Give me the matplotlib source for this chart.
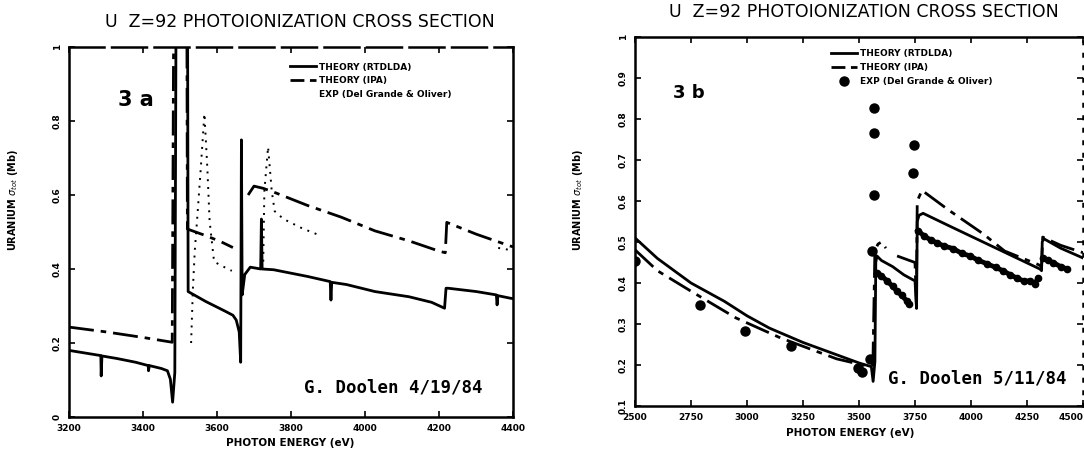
import numpy as np
import matplotlib
matplotlib.use("Agg")
import matplotlib.pyplot as plt
from matplotlib.lines import Line2D

# ---- Fig. 3a: M-shell region, theory only ----
a_ticks = [3200, 3400, 3600, 3800, 4000, 4200, 4400]
a_yticks = [0, 0.2, 0.4, 0.6, 0.8, 1.0]
a_ytick_labels = ["0", "0.2", "0.4", "0.6", "0.8", "1"]

a_rtdlda_e = [3200, 3286, 3287, 3289, 3330, 3380, 3414, 3415, 3417, 3450, 3466, 3474,
              3480, 3486, 3490, 3520, 3522, 3570, 3620, 3643, 3652, 3660, 3664,
              3666, 3668, 3675, 3690, 3718, 3720, 3722, 3753, 3844, 3906, 3908,
              3910, 3950, 4027, 4119, 4180, 4215, 4219, 4225, 4301, 4355, 4357,
              4359, 4393, 4400]
a_rtdlda_v = [0.180, 0.166, 0.111, 0.165, 0.158, 0.148, 0.139, 0.125, 0.139, 0.131,
              0.125, 0.102, 0.040, 0.120, 1.300, 1.300, 0.339, 0.312, 0.287, 0.275,
              0.262, 0.230, 0.148, 0.749, 0.330, 0.385, 0.405, 0.400, 0.535, 0.400,
              0.398, 0.380, 0.366, 0.316, 0.364, 0.358, 0.339, 0.325, 0.310, 0.294,
              0.348, 0.348, 0.339, 0.330, 0.303, 0.328, 0.321, 0.320]

a_ipa_e = [3200, 3300, 3400, 3479, 3484, 3518, 3520, 3570, 3610, 3643, np.nan,
           3684, 3700, 3725, 3753, 3844, 3936, 4027, 4119, 4201, 4217, 4221,
           4301, 4393, 4400]
a_ipa_v = [0.243, 0.230, 0.215, 0.202, 1.300, 1.300, 0.508, 0.490, 0.474, 0.458,
           np.nan, 0.600, 0.624, 0.618, 0.608, 0.572, 0.540, 0.503, 0.476, 0.448,
           0.444, 0.526, 0.494, 0.462, 0.460]

a_dot_e = [3530, 3535, 3540, 3546, 3556, 3566, 3574, 3580, 3592, 3610, 3640,
           np.nan, 3725, 3728, 3738, 3748, 3756, 3780, 3830, 3880, np.nan,
           4050, np.nan, 4265, np.nan, 4360, 4400]
a_dot_v = [0.200, 0.350, 0.450, 0.530, 0.670, 0.820, 0.670, 0.530, 0.420, 0.410,
           0.395, np.nan, 0.420, 0.610, 0.730, 0.610, 0.556, 0.535, 0.510, 0.490,
           np.nan, 0.450, np.nan, 0.410, np.nan, 0.457, 0.450]

# ---- Fig. 3b: comparison with experiment ----
b_ticks = [2500, 2750, 3000, 3250, 3500, 3750, 4000, 4250, 4500]
b_yticks = [0.1, 0.2, 0.3, 0.4, 0.5, 0.6, 0.7, 0.8, 0.9, 1.0]
b_ytick_labels = ["0.1", "0.2", "0.3", "0.4", "0.5", "0.6", "0.7", "0.8", "0.9", "1"]

b_rtdlda_e = [2500, 2600, 2750, 2900, 3000, 3100, 3250, 3400, 3500, 3555, 3563,
              3571, 3575, 3580, 3600, 3650, 3700, 3750, 3757, 3760, 3768, 3786,
              3900, 4000, 4100, 4200, 4308, 4315, 4318, 4325, 4400, 4500]
b_rtdlda_v = [0.510, 0.460, 0.400, 0.355, 0.320, 0.290, 0.255, 0.225, 0.205, 0.196,
              0.160, 0.208, 0.450, 0.466, 0.455, 0.440, 0.420, 0.405, 0.338, 0.550,
              0.565, 0.570, 0.540, 0.514, 0.488, 0.462, 0.434, 0.430, 0.500, 0.508,
              0.485, 0.461]

b_ipa_e = [2500, 2600, 2750, 2950, 3150, 3400, 3540, 3562, 3571, 3585, 3600, 3620,
           np.nan, 3670, 3700, 3750, 3756, 3760, 3781, 3900, 4054, 4150, 4300,
           4315, 4320, 4400, 4500]
b_ipa_v = [0.481, 0.430, 0.380, 0.315, 0.266, 0.215, 0.197, 0.200, 0.480, 0.495,
           0.500, 0.485, np.nan, 0.466, 0.460, 0.450, 0.350, 0.600, 0.626, 0.578,
           0.520, 0.478, 0.445, 0.440, 0.512, 0.492, 0.474]

b_exp_e = [2500, 2791, 2991, 3198, 3497, 3513, 3548, 3558, 3566, 3568, 3569,
           3741, 3745]
b_exp_v = [0.453, 0.347, 0.283, 0.246, 0.193, 0.184, 0.215, 0.479, 0.614, 0.766,
           0.828, 0.668, 0.737]

# densely sampled measurements above the M5, M4 and M3 edges
b_band_e = [3580, 3600, 3625, 3650, 3670, 3690, 3714, 3725, np.nan,
            3763, 3790, 3820, 3848, 3880, 3920, 3960, 3996, 4030, 4071, 4110,
            4143, 4175, 4205, 4235, 4263, 4285, 4299, np.nan,
            4321, 4345, 4366, 4400, 4429]
b_band_v = [0.425, 0.418, 0.405, 0.392, 0.380, 0.370, 0.356, 0.350, np.nan,
            0.528, 0.515, 0.505, 0.498, 0.490, 0.484, 0.472, 0.466, 0.456, 0.447,
            0.438, 0.430, 0.420, 0.412, 0.405, 0.405, 0.398, 0.412, np.nan,
            0.461, 0.455, 0.450, 0.440, 0.434]

TITLE = "U  Z=92 PHOTOIONIZATION CROSS SECTION"
YLABEL = r"URANIUM $\sigma_{tot}$ (Mb)"
XLABEL = "PHOTON ENERGY (eV)"
LEGEND_LABELS = ["THEORY (RTDLDA)", "THEORY (IPA)", "EXP (Del Grande & Oliver)"]


def style_axes(ax, xticks, yticks, ylabels):
    ax.set_xticks(xticks)
    ax.set_xticklabels([str(t) for t in xticks], fontsize=6.5, fontweight="bold")
    ax.set_yticks(yticks)
    ax.set_yticklabels(ylabels, fontsize=6.5, fontweight="bold",
                       rotation=90, va="center")
    ax.tick_params(direction="in", length=4, width=1.2, top=True, right=True,
                   pad=5)
    for sp in ax.spines.values():
        sp.set_linewidth(1.8)


plt.rcParams["font.family"] = ["DejaVu Sans"]
fig = plt.figure(figsize=(10.84, 4.55), dpi=100)

# panel a
ax1 = fig.add_axes([69 / 1084, 1 - 417 / 455, 444 / 1084, 370 / 455])
ax1.plot(a_rtdlda_e, a_rtdlda_v, color="black", lw=2.0, solid_joinstyle="round")
ax1.plot(a_ipa_e, a_ipa_v, color="black", lw=2.0, dashes=(9, 2.5, 2, 2.5))
ax1.plot(a_dot_e, a_dot_v, color="black", lw=1.4, ls=(0, (1, 3)))
ax1.set_xlim(3200, 4400)
ax1.set_ylim(0, 1)
style_axes(ax1, a_ticks, a_yticks, a_ytick_labels)
ax1.spines["top"].set_linestyle((0, (14, 3)))
ax1.text(0.11, 0.84, "3 a", transform=ax1.transAxes, fontsize=15,
         fontweight="bold")
ax1.text(0.53, 0.065, "G. Doolen 4/19/84", transform=ax1.transAxes,
         fontsize=12.5, fontweight="bold", family="DejaVu Sans Mono")
handles_a = [Line2D([], [], color="black", lw=2.0),
             Line2D([], [], color="black", lw=2.0, dashes=(5, 2)),
             Line2D([], [], color="none")]
ax1.legend(handles_a, LEGEND_LABELS,
           loc="upper left", bbox_to_anchor=(0.48, 0.98), frameon=False,
           prop={"size": 6.5, "weight": "bold"}, handlelength=2.8,
           handletextpad=0.4, labelspacing=0.55)
fig.text(300 / 1084, 1 - 22 / 455, TITLE, ha="center", va="center",
         fontsize=12.5)
fig.text(290 / 1084, 1 - 443 / 455, XLABEL, ha="center", va="center",
         fontsize=7.5, fontweight="bold")
fig.text(13 / 1084, 1 - 200 / 455, YLABEL, ha="center", va="center",
         rotation=90, fontsize=7, fontweight="bold")

# panel b
ax2 = fig.add_axes([635 / 1084, 1 - 406 / 455, 448 / 1084, 369 / 455])
ax2.plot(b_rtdlda_e, b_rtdlda_v, color="black", lw=2.0)
ax2.plot(b_ipa_e, b_ipa_v, color="black", lw=2.0, dashes=(9, 2.5, 2, 2.5))
ax2.plot(b_band_e, b_band_v, color="black", lw=3.5, marker="o", ms=4.5)
ax2.plot(b_exp_e, b_exp_v, ls="none", color="black", marker="o", ms=6.5)
ax2.set_xlim(2500, 4500)
ax2.set_ylim(0.1, 1.0)
style_axes(ax2, b_ticks, b_yticks, b_ytick_labels)
# last label sits on the figure edge
ax2.get_xticklabels()[-1].set_horizontalalignment("right")
ax2.spines["right"].set_linestyle((0, (1, 4)))
ax2.text(0.085, 0.835, "3 b", transform=ax2.transAxes, fontsize=13,
         fontweight="bold")
ax2.text(0.565, 0.06, "G. Doolen 5/11/84", transform=ax2.transAxes,
         fontsize=12.5, fontweight="bold", family="DejaVu Sans Mono")
handles_b = [Line2D([], [], color="black", lw=2.0),
             Line2D([], [], color="black", lw=2.0, dashes=(5, 2)),
             Line2D([], [], ls="none", color="black", marker="o", ms=6.5)]
ax2.legend(handles_b, LEGEND_LABELS,
           loc="upper left", bbox_to_anchor=(0.42, 0.99), frameon=False,
           prop={"size": 6.5, "weight": "bold"}, handlelength=2.8,
           handletextpad=0.4, labelspacing=0.55)
fig.text(864 / 1084, 1 - 12 / 455, TITLE, ha="center", va="center",
         fontsize=12.5)
fig.text(850 / 1084, 1 - 433 / 455, XLABEL, ha="center", va="center",
         fontsize=7.5, fontweight="bold")
fig.text(578 / 1084, 1 - 200 / 455, YLABEL, ha="center", va="center",
         rotation=90, fontsize=7, fontweight="bold")

fig.savefig("out.png", dpi=100)
